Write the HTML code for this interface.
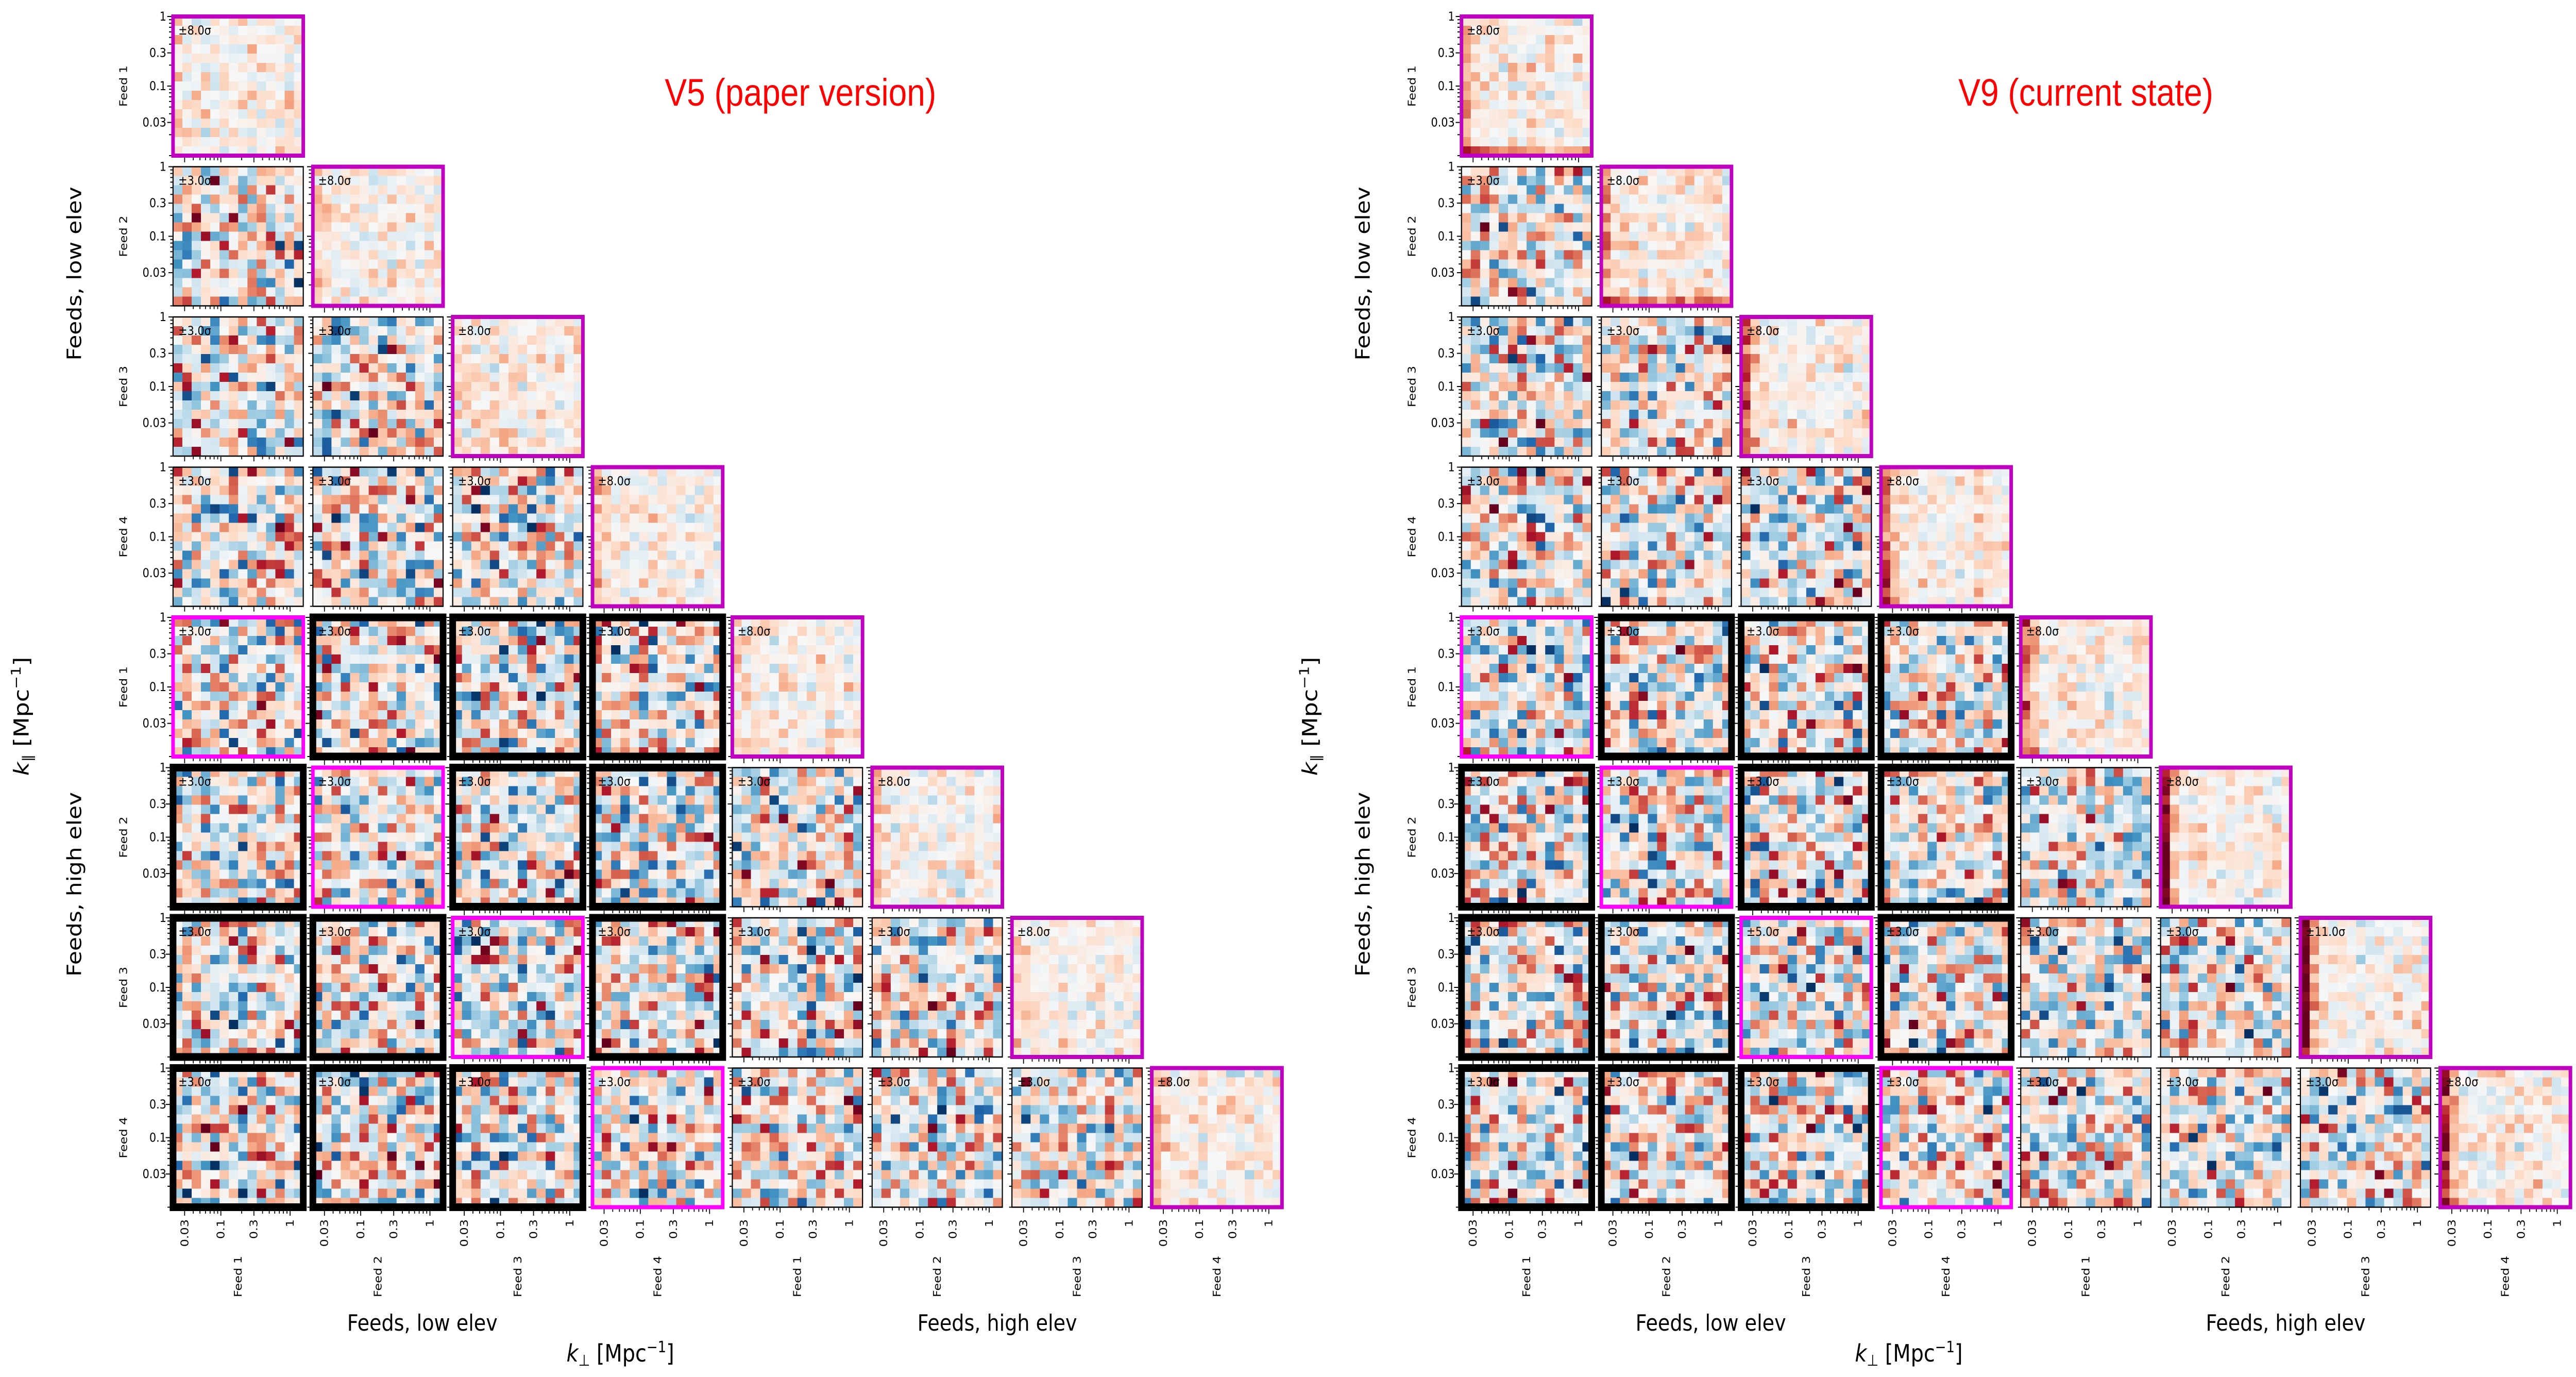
<!DOCTYPE html>
<html><head><meta charset="utf-8"><style>
html,body{margin:0;padding:0;background:#fff;overflow:hidden;width:100%;height:100%;}
svg{display:block;position:fixed;left:0;top:0;width:100vw;height:100vh;font-family:"DejaVu Sans","Liberation Sans",sans-serif;}
</style></head><body>
<svg id="fig" xmlns="http://www.w3.org/2000/svg" viewBox="0 0 5776 2672" preserveAspectRatio="none">
<rect width="5776" height="2672" fill="#fff"/>
<text x="1795" y="205" font-family="Liberation Sans, sans-serif" font-size="74" fill="#ff0000" text-anchor="middle">V5 (paper version)</text>
<text x="4677" y="205" font-family="Liberation Sans, sans-serif" font-size="74" fill="#ff0000" text-anchor="middle">V9 (current state)</text>
</svg>
<script>
// ---- data ----
const feedLabels = ["Feed 1","Feed 2","Feed 3","Feed 4","Feed 1","Feed 2","Feed 3","Feed 4"];
const yTicks = [1, 0.3, 0.1, 0.03];
const yTickLabels = ["1","0.3","0.1","0.03"];
const xTicks = [0.03, 0.1, 0.3, 1];
const xTickLabels = ["0.03","0.1","0.3","1"];
const chartNames = ["v5","v9"];
const diagSigmaV5 = ["±8.0σ","±8.0σ","±8.0σ","±8.0σ","±8.0σ","±8.0σ","±8.0σ","±8.0σ"];
const diagSigmaV9 = ["±8.0σ","±8.0σ","±8.0σ","±8.0σ","±8.0σ","±8.0σ","±11.0σ","±8.0σ"];
const offSigmaV5 = "±3.0σ";
const offSigmaV9 = "±3.0σ";
const specialSigmaV9 = {"6,2":"±5.0σ"};
const diagLeftBiasV5 = [0.1,0.2,0.1,0.25,0.15,0.2,0.1,0.3];
const diagLeftBiasV9 = [0.35,0.4,0.6,0.6,0.5,0.8,0.95,0.8];
const nCols = 14, nRows = 15;
const yLogMin = -2, yLogMax = 0;
const xLogMin = -1.69, xLogMax = 0.19;

// ---- layout ----
const chartX0 = [388, 3277];
const Y0 = 32, colPitch = 313.5, rowPitch = 291.5, axW = 292, axH = 270;
const svg = document.getElementById('fig');
const NS = "http://www.w3.org/2000/svg";
function mk(tag, attrs, parent){const e=document.createElementNS(NS,tag);for(const k in attrs)e.setAttribute(k,attrs[k]);(parent||svg).appendChild(e);return e;}

const stops = ["#053061","#2166ac","#4393c3","#92c5de","#d1e5f0","#f7f7f7","#fddbc7","#f4a582","#d6604d","#b2182b","#67001f"].map(h=>[parseInt(h.substr(1,2),16),parseInt(h.substr(3,2),16),parseInt(h.substr(5,2),16)]);
function cmap(v){v=Math.max(-1,Math.min(1,v));const t=(v+1)/2*10;const i=Math.min(9,Math.floor(t));const f=t-i;const a=stops[i],b=stops[i+1];return `rgb(${Math.round(a[0]+(b[0]-a[0])*f)},${Math.round(a[1]+(b[1]-a[1])*f)},${Math.round(a[2]+(b[2]-a[2])*f)})`;}
function h(n){n=(n^61)^(n>>>16);n=Math.imul(n,0x45d9f3b);n^=n>>>15;n=Math.imul(n,0x2c1b3c6d);n^=n>>>12;return (n>>>0)/4294967296;}
function cellVal(ch,r,c,i,j){const s=((ch*97+r)*31+c)*1000+i*20+j;const g=h(s*3+1)+h(s*3+2)+h(s*3+3)-1.5;
  if(r===c){const lb=(ch?diagLeftBiasV9:diagLeftBiasV5)[r];let v=g*0.3+0.05;if(j===0)v+=lb;if(j===1)v+=lb*0.3;if(ch&&r<2&&i===nRows-1)v+=0.4;return v;}
  return g*0.8;}

function sx(ax,v){return ax+(Math.log10(v)-xLogMin)/(xLogMax-xLogMin)*axW;}
function sy(ay,v){return ay+(yLogMax-Math.log10(v))/(yLogMax-yLogMin)*axH;}

for(let ch=0;ch<2;ch++){
  const g0=mk('g',{});
  
  
  for(let r=0;r<8;r++){for(let c=0;c<=r;c++){
    const ax=chartX0[ch]+c*colPitch, ay=Y0+r*rowPitch;
    const g=mk('g',{},g0);
    
    
    const cw=axW/nCols, chh=axH/nRows;
    for(let i=0;i<nRows;i++)for(let j=0;j<nCols;j++){
      const e=mk('rect',{x:(ax+j*cw).toFixed(2),y:(ay+i*chh).toFixed(2),width:(cw+0.6).toFixed(2),height:(chh+0.6).toFixed(2),fill:cmap(cellVal(ch,r,c,i,j))},g);
      
      
    }
    let stroke="#000",sw=2.5;
    if(r===c){stroke="#c000c0";sw=8;}
    else if(r===c+4){stroke="#ff00ff";sw=8;}
    else if(r>=4&&c<4){stroke="#000";sw=15;}
    const b=mk('rect',{x:ax,y:ay,width:axW,height:axH,fill:"none",stroke:stroke,"stroke-width":sw},g);
    
    
    const off=sw/2;
    let d="";
    for(let k=-2;k<=0;k++)for(let m=1;m<=9;m++){const v=m*Math.pow(10,k);if(v<1e-2-1e-9||v>1+1e-9)continue;const y=sy(ay,v);const maj=yTicks.some(t=>Math.abs(t-v)<1e-9);d+=`M${ax-off} ${y.toFixed(1)}h${-(maj?9:5)}`;}
    for(const t of yTicks){const y=sy(ay,t);d+=`M${ax-off} ${y.toFixed(1)}h-9`;}
    for(let k=-2;k<=0;k++)for(let m=1;m<=9;m++){const v=m*Math.pow(10,k);const lv=Math.log10(v);if(lv<xLogMin||lv>xLogMax)continue;const x=sx(ax,v);d+=`M${x.toFixed(1)} ${ay+axH+off}v5`;}
    for(const t of xTicks){const x=sx(ax,t);d+=`M${x.toFixed(1)} ${ay+axH+off}v9`;}
    const tk=mk('path',{d:d,stroke:"#000","stroke-width":2,fill:"none"},g);
    
    
    let lab = r===c ? (ch?diagSigmaV9:diagSigmaV5)[r] : (ch?offSigmaV9:offSigmaV5);
    if(ch&&specialSigmaV9[r+","+c])lab=specialSigmaV9[r+","+c];
    const st=mk('text',{x:ax+12,y:ay+35,"font-size":24,fill:"#000"},g);
    st.textContent=lab;
    
    
    if(c===0){
      yTicks.forEach((t,k)=>{const e=mk('text',{x:ax-15,y:sy(ay,t)+8,"font-size":24,"text-anchor":"end"},g);e.textContent=yTickLabels[k];
        
        });
      const fl=mk('text',{transform:`translate(${ax-103},${ay+axH/2}) rotate(-90)`,"font-size":24,"text-anchor":"middle"},g);
      fl.textContent=feedLabels[r];
      
      
    }
    if(r===7){
      xTicks.forEach((t,k)=>{const e=mk('text',{transform:`translate(${sx(ax,t)+8},2366) rotate(-90)`,"font-size":24,"text-anchor":"end"},g);e.textContent=xTickLabels[k];
        
        });
      const fl=mk('text',{transform:`translate(${ax+axW/2+8},2437) rotate(-90)`,"font-size":24,"text-anchor":"end"},g);
      fl.textContent=feedLabels[c];
      
      
    }
  }}
  const dx=chartX0[ch]-388;
  const labs=[
    ['x-group-low',`translate(${947+dx},2582)`,"Feeds, low elev",44],
    ['x-group-high',`translate(${2236+dx},2582)`,"Feeds, high elev",44],
    ['y-group-low',`translate(${182+dx},531) rotate(-90)`,"Feeds, low elev",44],
    ['y-group-high',`translate(${182+dx},1716) rotate(-90)`,"Feeds, high elev",44]];
  for(const L of labs){const e=mk('text',{transform:L[1],"font-size":L[3],"text-anchor":"middle"},g0);e.textContent=L[2];
    
    }
  const kx=mk('text',{transform:`translate(${1391+dx},2642)`,"font-size":46,"text-anchor":"middle"},g0);
  kx.innerHTML='<tspan font-style="italic">k</tspan><tspan font-size="30" dy="8">⊥</tspan><tspan dy="-8"> [Mpc</tspan><tspan font-size="30" dy="-18">−1</tspan><tspan dy="18">]</tspan>';
  
  
  const ky=mk('text',{transform:`translate(${64+dx},1390) rotate(-90)`,"font-size":46,"text-anchor":"middle"},g0);
  ky.innerHTML='<tspan font-style="italic">k</tspan><tspan font-size="30" dy="8">∥</tspan><tspan dy="-8"> [Mpc</tspan><tspan font-size="30" dy="-18">−1</tspan><tspan dy="18">]</tspan>';
  
  
}
</script>
</body></html>
